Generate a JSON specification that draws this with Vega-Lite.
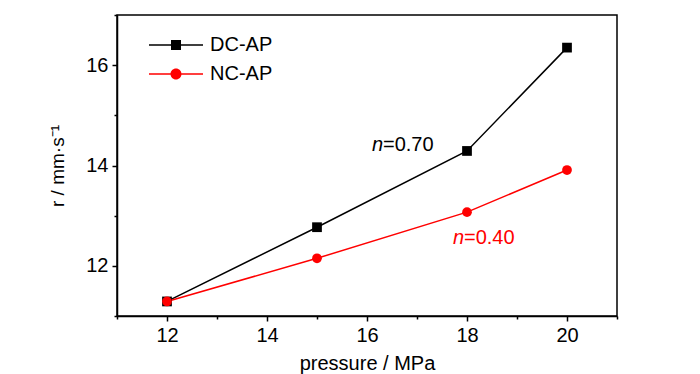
{
  "$schema": "https://vega.github.io/schema/vega-lite/v6.json",
  "width": 500,
  "height": 301,
  "autosize": {"type": "none"},
  "padding": {"left": 117, "top": 15, "right": 83, "bottom": 58},
  "background": "white",
  "config": {
    "font": "Liberation Sans",
    "view": {"stroke": "black", "strokeWidth": 1.5}
  },
  "data": {
    "values": [
      {"pressure": 12, "r": 11.29, "series": "DC-AP"},
      {"pressure": 15, "r": 12.77, "series": "DC-AP"},
      {"pressure": 18, "r": 14.29, "series": "DC-AP"},
      {"pressure": 20, "r": 16.35, "series": "DC-AP"},
      {"pressure": 12, "r": 11.29, "series": "NC-AP"},
      {"pressure": 15, "r": 12.15, "series": "NC-AP"},
      {"pressure": 18, "r": 13.07, "series": "NC-AP"},
      {"pressure": 20, "r": 13.91, "series": "NC-AP"}
    ]
  },
  "encoding": {
    "x": {
      "field": "pressure",
      "type": "quantitative",
      "scale": {"domain": [11, 21], "nice": false, "zero": false},
      "axis": {
        "title": "pressure / MPa",
        "values": [11, 12, 13, 14, 15, 16, 17, 18, 19, 20, 21],
        "labelExpr": "datum.value % 2 === 0 ? datum.label : ''",
        "grid": false,
        "domainColor": "black",
        "domainWidth": 1.5,
        "tickColor": "black",
        "tickWidth": 1.5,
        "tickSize": {"condition": {"test": "datum.value % 2 === 0", "value": 5}, "value": 3},
        "labelColor": "black",
        "labelFontSize": 20,
        "labelPadding": 4,
        "titleColor": "black",
        "titleFontSize": 20,
        "titleFontWeight": "normal",
        "titlePadding": 8
      }
    },
    "y": {
      "field": "r",
      "type": "quantitative",
      "scale": {"domain": [11, 17], "nice": false, "zero": false},
      "axis": {
        "title": "r / mm·s⁻¹",
        "values": [11, 12, 13, 14, 15, 16, 17],
        "labelExpr": "datum.value % 2 === 0 ? datum.label : ''",
        "grid": false,
        "domainColor": "black",
        "domainWidth": 1.5,
        "tickColor": "black",
        "tickWidth": 1.5,
        "tickSize": {"condition": {"test": "datum.value % 2 === 0", "value": 5}, "value": 3},
        "labelColor": "black",
        "labelFontSize": 20,
        "labelPadding": 4,
        "titleColor": "black",
        "titleFontSize": 19,
        "titleFontWeight": "normal",
        "titlePadding": 18
      }
    },
    "color": {
      "field": "series",
      "type": "nominal",
      "scale": {"domain": ["DC-AP", "NC-AP"], "range": ["#000000", "#ff0000"]},
      "legend": {
        "title": null,
        "orient": "none",
        "legendX": 49,
        "legendY": 20,
        "padding": 0,
        "symbolSize": 100,
        "symbolStrokeWidth": 0,
        "symbolOpacity": 1,
        "labelFontSize": 20,
        "labelColor": "black",
        "labelOffset": 24,
        "rowPadding": 9
      }
    }
  },
  "layer": [
    {
      "mark": {"type": "line", "strokeWidth": 1.5}
    },
    {
      "transform": [{"filter": "datum.series === 'DC-AP'"}],
      "mark": {"type": "point", "filled": true, "opacity": 1, "size": 95, "shape": "square"}
    },
    {
      "transform": [{"filter": "datum.series === 'NC-AP'"}],
      "mark": {"type": "point", "filled": true, "opacity": 1, "size": 95, "shape": "circle"}
    },
    {
      "mark": {"type": "point", "filled": true, "opacity": 0, "size": 95},
      "encoding": {
        "shape": {
          "field": "series",
          "type": "nominal",
          "scale": {
            "domain": ["DC-AP", "NC-AP"],
            "range": [
              "M-5.4,-0.15H-1V0.15H-5.4Z M1,-0.15H5.4V0.15H1Z M-1,-1H1V1H-1Z",
              "M-5.4,-0.15H-1.09V0.15H-5.4Z M1.09,-0.15H5.4V0.15H1.09Z M1.1,0A1.1,1.1 0 1,1 -1.1,0A1.1,1.1 0 1,1 1.1,0Z"
            ]
          },
          "legend": {
            "title": null,
            "orient": "none",
            "legendX": 49,
            "legendY": 20,
            "padding": 0,
            "symbolSize": 100,
            "symbolStrokeWidth": 0,
            "symbolOpacity": 1,
            "labelFontSize": 20,
            "labelColor": "black",
            "labelOffset": 24,
            "rowPadding": 9
          }
        }
      }
    },
    {
      "data": {
        "values": [
          {"px": 16.32, "py": 14.41, "t": "=0.70", "series": "DC-AP"},
          {"px": 17.94, "py": 12.56, "t": "=0.40", "series": "NC-AP"}
        ]
      },
      "layer": [
        {
          "mark": {"type": "text", "align": "right", "baseline": "middle", "fontSize": 20, "fontStyle": "italic"},
          "encoding": {
            "x": {"field": "px", "type": "quantitative"},
            "y": {"field": "py", "type": "quantitative"},
            "text": {"value": "n"}
          }
        },
        {
          "mark": {"type": "text", "align": "left", "baseline": "middle", "fontSize": 20},
          "encoding": {
            "x": {"field": "px", "type": "quantitative"},
            "y": {"field": "py", "type": "quantitative"},
            "text": {"field": "t"}
          }
        }
      ]
    }
  ]
}
